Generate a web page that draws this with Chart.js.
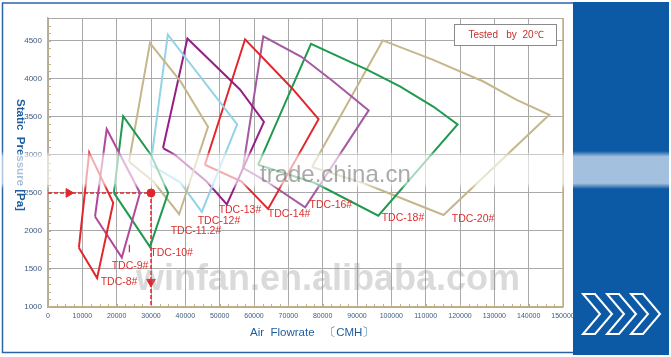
<!DOCTYPE html>
<html>
<head>
<meta charset="utf-8">
<title>TDC fan curves</title>
<script src="https://cdn.jsdelivr.net/npm/chart.js@4.4.0/dist/chart.umd.min.js"></script>
<style>
  html, body { margin: 0; padding: 0; background: #fff; }
  canvas { display: block; }
</style>
</head>
<body>
<canvas id="grafico" width="671" height="357"></canvas>
<script>
// pontos de cada ventilador: [vazao CMH, pressao estatica Pa]
var tdc8 = [[9000, 1780], [12000, 3030], [19000, 2370], [14300, 1380], [9000, 1780]];
var tdc9 = [[13700, 2190], [17100, 3340], [26800, 2500], [21500, 1650], [13700, 2190]];
var tdc10 = [[19200, 2500], [21900, 3510], [30000, 3000], [35000, 2500], [29700, 1790], [19200, 2500]];
var tdc112 = [[23600, 2910], [29700, 4470], [38700, 3960], [46600, 3370], [38200, 2220], [30700, 2650], [23600, 2910]];
var tdc12 = [[29900, 2870], [34900, 4580], [55100, 3400], [44800, 2250], [38500, 2640], [29900, 2870]];
var tdc13 = [[33500, 3090], [40600, 4530], [55900, 3860], [62900, 3435], [52100, 2350], [46200, 2650], [37000, 3000], [33500, 3090]];
var tdc14 = [[45700, 2870], [57400, 4520], [71000, 3880], [78800, 3470], [64100, 2290], [56400, 2650], [45700, 2870]];
var tdc16 = [[56800, 2830], [62700, 4560], [73800, 4290], [83100, 3965], [93400, 3585], [74900, 2310], [63700, 2650], [56800, 2830]];
var tdc18 = [[61200, 2870], [76600, 4460], [92900, 4120], [102500, 3900], [112200, 3636], [119300, 3400], [96200, 2200], [77800, 2630], [61200, 2870]];
var tdc20 = [[76900, 2840], [97500, 4505], [112200, 4250], [126800, 3965], [136500, 3724], [146000, 3527], [115200, 2210], [91800, 2630], [76900, 2840]];

var modelos = ['TDC-8#', 'TDC-9#', 'TDC-10#', 'TDC-11.2#', 'TDC-12#', 'TDC-13#', 'TDC-14#', 'TDC-16#', 'TDC-18#', 'TDC-20#'];
var curvas = [tdc8, tdc9, tdc10, tdc112, tdc12, tdc13, tdc14, tdc16, tdc18, tdc20];
// onde fica o nome de cada modelo
var rotulos = [[20700, 1330], [23900, 1540], [36000, 1707], [43100, 2000], [49800, 2130],
               [55900, 2277], [70200, 2224], [82400, 2342], [103400, 2171], [123800, 2158]];

// exemplo de leitura: 30000 CMH a 2500 Pa
var linhaH = [[0, 2500], [30000, 2500]];
var linhaV = [[30000, 2500], [30000, 1000]];
var pontoOp = [[30000, 2500]];
var setaH = [[6000, 2500]];
var setaV = [[30000, 1330]];
var marca9 = [[23700, 1720], [23700, 1820]];

var xTicks = [0, 10000, 20000, 30000, 40000, 50000, 60000, 70000, 80000, 90000, 100000, 110000, 120000, 130000, 140000, 150000];
var yTicks = [1000, 1500, 2000, 2500, 3000, 3500, 4000, 4500];

var cores = ['#e1262c', '#b3489a', '#1f9a4f', '#c5b78b', '#92d3e6', '#961f85', '#e1262c', '#a35aa2', '#1f9a4f', '#c5b78b'];
var vermelho = '#e1262c';
var fonte = "'Liberation Sans', Arial, sans-serif";

function pts(lista) {
  return lista.map(function (p) { return { x: p[0], y: p[1] }; });
}

var datasets = [];
for (var i = 0; i < curvas.length; i++) {
  datasets.push({
    label: modelos[i],
    data: pts(curvas[i]),
    showLine: true,
    borderColor: cores[i],
    borderWidth: 2,
    pointRadius: 0,
    tension: 0,
    fill: false
  });
}
datasets.push({ data: pts(linhaH), showLine: true, borderColor: vermelho, borderWidth: 1.5, borderDash: [4, 2], pointRadius: 0 });
datasets.push({ data: pts(linhaV), showLine: true, borderColor: vermelho, borderWidth: 1.5, borderDash: [4, 2], pointRadius: 0 });
datasets.push({ data: pts(marca9), showLine: true, borderColor: vermelho, borderWidth: 1.2, pointRadius: 0 });
datasets.push({ data: pts(setaH), showLine: false, pointStyle: 'triangle', rotation: 90, pointRadius: 5, backgroundColor: vermelho, borderColor: vermelho });
datasets.push({ data: pts(setaV), showLine: false, pointStyle: 'triangle', rotation: 180, pointRadius: 5, backgroundColor: vermelho, borderColor: vermelho });
datasets.push({ data: pts(pontoOp), showLine: false, pointStyle: 'circle', pointRadius: 4, backgroundColor: vermelho, borderColor: vermelho });

// moldura, faixa azul da direita
var fundo = {
  id: 'fundo',
  beforeDraw: function (chart) {
    var ctx = chart.ctx;
    ctx.save();
    ctx.fillStyle = '#ffffff';
    ctx.fillRect(0, 0, chart.width, chart.height);
    ctx.fillStyle = '#0c5aa6';
    ctx.fillRect(573, 2, 96, 353);
    ctx.strokeStyle = '#2d64a5';
    ctx.lineWidth = 1.5;
    ctx.beginPath();
    ctx.moveTo(573, 3);
    ctx.lineTo(2.5, 3);
    ctx.lineTo(2.5, 352.5);
    ctx.lineTo(573, 352.5);
    ctx.stroke();
    ctx.restore();
  },
  beforeDatasetsDraw: function (chart) {
    var ctx = chart.ctx, a = chart.chartArea;
    var sx = chart.scales.x, sy = chart.scales.y;
    ctx.save();
    ctx.strokeStyle = '#a9a9a9';
    ctx.lineWidth = 1;
    ctx.beginPath();
    ctx.moveTo(a.left, a.top + 0.5);
    ctx.lineTo(a.right, a.top + 0.5);
    ctx.stroke();
    ctx.strokeStyle = '#bfb08a';
    ctx.lineWidth = 1.5;
    ctx.beginPath();
    ctx.moveTo(a.right, a.top);
    ctx.lineTo(a.right, a.bottom);
    ctx.stroke();
    // tracinhos menores
    ctx.lineWidth = 1;
    ctx.beginPath();
    for (var v = 1100; v < 4800; v += 100) {
      var py = Math.round(sy.getPixelForValue(v)) + 0.5;
      ctx.moveTo(a.left, py);
      ctx.lineTo(a.left + 3, py);
    }
    for (var u = 2500; u < 150000; u += 2500) {
      var px = Math.round(sx.getPixelForValue(u)) + 0.5;
      ctx.moveTo(px, a.bottom);
      ctx.lineTo(px, a.bottom - 3);
    }
    ctx.stroke();
    ctx.restore();
  },
  afterDatasetsDraw: function (chart) {
    var ctx = chart.ctx, a = chart.chartArea;
    var sx = chart.scales.x, sy = chart.scales.y;
    ctx.save();
    ctx.font = '10.5px ' + fonte;
    ctx.fillStyle = '#d9302e';
    ctx.textAlign = 'center';
    ctx.textBaseline = 'middle';
    for (var i = 0; i < modelos.length; i++) {
      ctx.fillText(modelos[i], sx.getPixelForValue(rotulos[i][0]), sy.getPixelForValue(rotulos[i][1]));
    }
    // caixa "Tested by 20C"
    var bx = a.right - 109, by = a.top + 6;
    ctx.fillStyle = '#ffffff';
    ctx.fillRect(bx, by, 102, 21);
    ctx.strokeStyle = '#8a8a8a';
    ctx.lineWidth = 1;
    ctx.strokeRect(bx + 0.5, by + 0.5, 102, 21);
    ctx.fillStyle = '#c4302c';
    ctx.font = '10px ' + fonte;
    ctx.fillText('Tested   by  20\u2103', bx + 52, by + 11);
    // titulos dos eixos
    ctx.fillStyle = '#1d5e9e';
    ctx.font = '11.5px ' + fonte;
    ctx.textAlign = 'left';
    ctx.fillText('Air  Flowrate   \u3014CMH\u3015', 250, 333);
    ctx.translate(20, 155);
    ctx.rotate(Math.PI / 2);
    ctx.font = 'bold 11.5px ' + fonte;
    ctx.textAlign = 'center';
    ctx.fillText('Static  Pressure [Pa]', 0, 0);
    ctx.restore();
  },
  afterDraw: function (chart) {
    var ctx = chart.ctx;
    ctx.save();
    // marcas d'agua
    ctx.fillStyle = 'rgba(150,150,150,0.35)';
    ctx.font = 'bold 36px ' + fonte;
    ctx.textAlign = 'left';
    ctx.textBaseline = 'alphabetic';
    ctx.fillText('winfan.en.alibaba.com', 136, 290);
    var g = ctx.createLinearGradient(0, 151, 0, 189);
    g.addColorStop(0, 'rgba(255,255,255,0)');
    g.addColorStop(0.15, 'rgba(255,255,255,0.62)');
    g.addColorStop(0.85, 'rgba(255,255,255,0.62)');
    g.addColorStop(1, 'rgba(255,255,255,0)');
    ctx.fillStyle = g;
    ctx.fillRect(0, 151, chart.width, 38);
    ctx.fillStyle = 'rgba(100,100,100,0.55)';
    ctx.font = '24px ' + fonte;
    ctx.fillText('trade.china.cn', 260, 182);
    // setas brancas
    ctx.strokeStyle = '#ffffff';
    ctx.lineWidth = 2;
    ctx.lineJoin = 'miter';
    for (var k = 0; k < 3; k++) {
      var x0 = 583 + k * 24, t = 294, b = 334, m = 314;
      ctx.beginPath();
      ctx.moveTo(x0, t);
      ctx.lineTo(x0 + 12, t);
      ctx.lineTo(x0 + 29, m);
      ctx.lineTo(x0 + 12, b);
      ctx.lineTo(x0, b);
      ctx.lineTo(x0 + 17, m);
      ctx.closePath();
      ctx.stroke();
    }
    ctx.restore();
  }
};

var ctx = document.getElementById('grafico').getContext('2d');
var chart = new Chart(ctx, {
  type: 'scatter',
  data: { datasets: datasets },
  plugins: [fundo],
  options: {
    responsive: false,
    animation: false,
    devicePixelRatio: 1,
    layout: { padding: { left: 0, right: 108, top: 18, bottom: 0 } },
    plugins: { legend: { display: false }, tooltip: { enabled: false } },
    scales: {
      x: {
        type: 'linear',
        min: 0,
        max: 150000,
        afterFit: function (s) { s.height = 50; },
        afterBuildTicks: function (s) { s.ticks = xTicks.map(function (v) { return { value: v }; }); },
        ticks: {
          autoSkip: false,
          maxRotation: 0,
          padding: 5,
          color: '#3e5a7e',
          font: { size: 7, family: fonte },
          callback: function (v) { return String(v); }
        },
        grid: { color: '#a9a9a9', lineWidth: 1, drawTicks: false },
        border: { color: '#bfb08a', width: 1.5 }
      },
      y: {
        type: 'linear',
        min: 1000,
        max: 4800,
        afterFit: function (s) { s.width = 48; },
        afterBuildTicks: function (s) { s.ticks = yTicks.map(function (v) { return { value: v }; }); },
        ticks: {
          padding: 6,
          color: '#3e5a7e',
          font: { size: 8, family: fonte },
          callback: function (v) { return String(v); }
        },
        grid: { color: '#a9a9a9', lineWidth: 1, drawTicks: false },
        border: { color: '#bfb08a', width: 1.5 }
      }
    }
  }
});
</script>
</body>
</html>
